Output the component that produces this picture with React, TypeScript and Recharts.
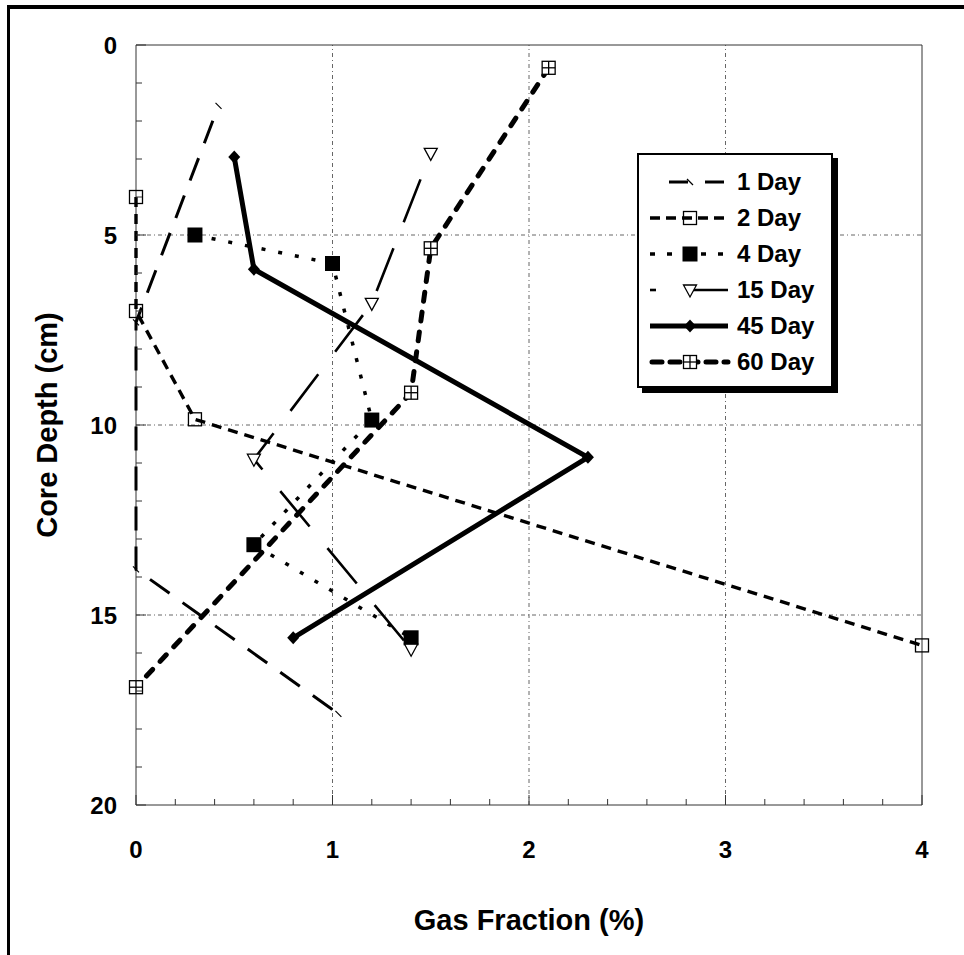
import { Line, LineChart, ReferenceLine, XAxis, YAxis } from 'recharts'

const FONT = '"Liberation Sans", Arial, Helvetica, sans-serif'
const AXIS = '#333'
const GRID = '#666'
// pixel gap between the plot clip edge and x = 0, so lines drawn on the left axis are not cut in half
const PAD = 8

// gas fraction (%) vs core depth (cm)
const day1 = [
  { gas: 0.42, depth: 1.6 },
  { gas: 0, depth: 7.3 },
  { gas: 0, depth: 13.8 },
  { gas: 1.03, depth: 17.6 },
]
const day2 = [
  { gas: 0, depth: 4.0 },
  { gas: 0, depth: 7.0 },
  { gas: 0.3, depth: 9.85 },
  { gas: 4.0, depth: 15.8 },
]
const day4 = [
  { gas: 0.3, depth: 5.0 },
  { gas: 1.0, depth: 5.75 },
  { gas: 1.2, depth: 9.87 },
  { gas: 0.6, depth: 13.15 },
  { gas: 1.4, depth: 15.6 },
]
const day15 = [
  { gas: 1.5, depth: 2.85 },
  { gas: 1.2, depth: 6.8 },
  { gas: 0.6, depth: 10.9 },
  { gas: 1.4, depth: 15.9 },
]
const day45 = [
  { gas: 0.5, depth: 2.95 },
  { gas: 0.6, depth: 5.9 },
  { gas: 2.3, depth: 10.85 },
  { gas: 0.8, depth: 15.6 },
]
const day60 = [
  { gas: 2.1, depth: 0.6 },
  { gas: 1.5, depth: 5.35 },
  { gas: 1.4, depth: 9.15 },
  { gas: 0, depth: 16.9 },
]

const seriesNames = ['1 Day', '2 Day', '4 Day', '15 Day', '45 Day', '60 Day']
const seriesData = [day1, day2, day4, day15, day45, day60]

const xTicks = [0, 0.2, 0.4, 0.6, 0.8, 1, 1.2, 1.4, 1.6, 1.8, 2, 2.2, 2.4, 2.6, 2.8, 3, 3.2, 3.4, 3.6, 3.8, 4]
const yTicks = [0, 1, 2, 3, 4, 5, 6, 7, 8, 9, 10, 11, 12, 13, 14, 15, 16, 17, 18, 19, 20]
const xLabels = [0, 1, 2, 3, 4]
const yLabels = [0, 5, 10, 15, 20]
const xGrid = [1, 2, 3]
const yGrid = [5, 10, 15]
const xDomain = [0, 4]
const yDomain = [0, 20]

type MarkerKind = 'slash' | 'openSquare' | 'square' | 'triangle' | 'diamond' | 'crossSquare'

const styles: { width: number; dash?: string; offset?: number; marker: MarkerKind; cap?: 'round' | 'butt' }[] = [
  { width: 3, dash: '24 16', offset: 24, marker: 'slash' },
  { width: 3.4, dash: '10 7', marker: 'openSquare' },
  { width: 3.5, dash: '4 13', marker: 'square' },
  { width: 2.6, dash: '46 28', offset: 46, marker: 'triangle' },
  { width: 5, marker: 'diamond' },
  { width: 5, dash: '9 11', marker: 'crossSquare', cap: 'round' },
]

function Marker({ kind, cx, cy }: { kind: MarkerKind; cx: number; cy: number }) {
  switch (kind) {
    case 'slash':
      return <line x1={cx - 3} y1={cy - 3} x2={cx + 3} y2={cy + 3} stroke="#000" strokeWidth={1.2} />
    case 'openSquare':
      return <rect x={cx - 6.5} y={cy - 6.5} width={13} height={13} fill="none" stroke="#000" strokeWidth={1.3} />
    case 'square':
      return <rect x={cx - 7.5} y={cy - 7.5} width={15} height={15} fill="#000" />
    case 'triangle':
      return (
        <path
          d={`M${cx - 6.5},${cy - 5} L${cx + 6.5},${cy - 5} L${cx},${cy + 7} Z`}
          fill="#fff"
          stroke="#000"
          strokeWidth={1.3}
        />
      )
    case 'diamond':
      return <path d={`M${cx},${cy - 6.5} L${cx + 6},${cy} L${cx},${cy + 6.5} L${cx - 6},${cy} Z`} fill="#000" />
    case 'crossSquare':
      return (
        <g stroke="#000" strokeWidth={1.3} fill="#fff">
          <rect x={cx - 6.5} y={cy - 6.5} width={13} height={13} />
          <line x1={cx - 6.5} x2={cx + 6.5} y1={cy} y2={cy} />
          <line x1={cx} x2={cx} y1={cy - 6.5} y2={cy + 6.5} />
        </g>
      )
  }
}

const isMajor = (v: number, list: number[]) => list.some((l) => Math.abs(l - v) < 1e-9)

function XTick(props: any) {
  const { x, y, payload, side } = props
  const v = payload.value
  const major = isMajor(v, xLabels)
  const len = major ? 10 : 6
  const dir = side === 'bottom' ? -1 : 1
  return (
    <g>
      <line x1={x} x2={x} y1={y} y2={y + dir * len} stroke={AXIS} strokeWidth={1} />
      {side === 'bottom' && major && (
        <text x={x} y={y + 44} textAnchor="middle" dominantBaseline="central" fontFamily={FONT} fontWeight={700} fontSize={24} fill="#000">
          {v}
        </text>
      )}
    </g>
  )
}

function YTick(props: any) {
  const { payload, side } = props
  const x = side === 'left' ? props.x + PAD : props.x
  const y = props.y
  const v = payload.value
  const major = isMajor(v, yLabels)
  const len = major ? 10 : 6
  const dir = side === 'left' ? 1 : -1
  return (
    <g>
      <line x1={x} x2={x + dir * len} y1={y} y2={y} stroke={AXIS} strokeWidth={1} />
      {side === 'left' && major && (
        <text x={x - 19} y={y} textAnchor="end" dominantBaseline="central" fontFamily={FONT} fontWeight={700} fontSize={24} fill="#000">
          {v}
        </text>
      )}
    </g>
  )
}

function LegendSample({ i }: { i: number }) {
  const y = 18
  const m = styles[i].marker
  let line = null
  if (i === 0) line = <line x1={30} x2={88} y1={y} y2={y} stroke="#000" strokeWidth={3} strokeDasharray="19 17" />
  if (i === 1) line = <line x1={11} x2={89} y1={y} y2={y} stroke="#000" strokeWidth={3.4} strokeDasharray="10 6" />
  if (i === 2) line = <line x1={11} x2={89} y1={y} y2={y} stroke="#000" strokeWidth={3.5} strokeDasharray="5 12" />
  if (i === 3)
    line = (
      <g stroke="#000" strokeWidth={2.6}>
        <line x1={11} x2={17} y1={y} y2={y} />
        <line x1={51} x2={89} y1={y} y2={y} />
      </g>
    )
  if (i === 4) line = <line x1={11} x2={89} y1={y} y2={y} stroke="#000" strokeWidth={5} />
  if (i === 5) line = <line x1={13} x2={89} y1={y} y2={y} stroke="#000" strokeWidth={5} strokeDasharray="10 8" strokeLinecap="round" />
  return (
    <svg width={96} height={36} style={{ display: 'block' }}>
      {line}
      <Marker kind={m} cx={51} cy={y} />
    </svg>
  )
}

function ChartLegend() {
  return (
    <div
      style={{
        position: 'absolute',
        left: 637,
        top: 153,
        width: 192,
        height: 222,
        border: '2px solid #000',
        background: '#fff',
        boxShadow: '5px 5px 0 #000',
        paddingTop: 9,
        boxSizing: 'content-box',
      }}
    >
      {seriesNames.map((name, i) => (
        <div key={name} style={{ display: 'flex', alignItems: 'center', height: 36 }}>
          <LegendSample i={i} />
          <span style={{ marginLeft: 2, fontFamily: FONT, fontWeight: 700, fontSize: 24, color: '#000' }}>{name}</span>
        </div>
      ))}
    </div>
  )
}

export default function App() {
  return (
    <div style={{ position: 'absolute', left: 0, top: 0, width: 964, height: 955, overflow: 'hidden', background: '#fff' }}>
      <div
        style={{
          position: 'absolute',
          left: 7,
          top: 5,
          width: 1000,
          height: 1000,
          borderTop: '4px solid #000',
          borderLeft: '3px solid #000',
        }}
      />
      <LineChart
        width={964}
        height={955}
        margin={{ top: 44, right: 41, bottom: 149, left: 135 - PAD }}
        style={{ position: 'absolute', left: 0, top: 0 }}
      >
        {xGrid.map((v) => (
          <ReferenceLine key={`gx${v}`} x={v} stroke={GRID} strokeDasharray="4 3 1 3" />
        ))}
        {yGrid.map((v) => (
          <ReferenceLine
            key={`gy${v}`}
            segment={[
              { x: xDomain[0], y: v },
              { x: xDomain[1], y: v },
            ]}
            stroke={GRID}
            strokeDasharray="4 3 1 3"
          />
        ))}
        {/* plot frame: left edge at x = 0, top and bottom trimmed to the data range */}
        <ReferenceLine x={xDomain[0]} stroke={AXIS} />
        {yDomain.map((v) => (
          <ReferenceLine
            key={`frame${v}`}
            segment={[
              { x: xDomain[0], y: v },
              { x: xDomain[1], y: v },
            ]}
            stroke={AXIS}
          />
        ))}
        <XAxis
          type="number"
          dataKey="gas"
          domain={xDomain}
          padding={{ left: PAD, right: 0 }}
          ticks={xTicks}
          interval={0}
          height={1}
          tickSize={0}
          tickMargin={0}
          tickLine={false}
          axisLine={false}
          tick={(p: any) => <XTick {...p} side="bottom" />}
        />
        <XAxis
          xAxisId="top"
          orientation="top"
          type="number"
          domain={xDomain}
          padding={{ left: PAD, right: 0 }}
          ticks={xTicks}
          interval={0}
          height={1}
          tickSize={0}
          tickMargin={0}
          tickLine={false}
          axisLine={false}
          tick={(p: any) => <XTick {...p} side="top" />}
        />
        <YAxis
          type="number"
          domain={yDomain}
          reversed
          ticks={yTicks}
          interval={0}
          width={1}
          tickSize={0}
          tickMargin={0}
          tickLine={false}
          axisLine={false}
          tick={(p: any) => <YTick {...p} side="left" />}
        />
        <YAxis
          yAxisId="right"
          orientation="right"
          type="number"
          domain={yDomain}
          reversed
          ticks={yTicks}
          interval={0}
          width={1}
          tickSize={0}
          tickMargin={0}
          tickLine={false}
          axisLine={{ stroke: AXIS }}
          tick={(p: any) => <YTick {...p} side="right" />}
        />
        {seriesData.map((data, i) => (
          <Line
            key={seriesNames[i]}
            name={seriesNames[i]}
            data={data}
            dataKey="depth"
            type="linear"
            stroke="#000"
            strokeWidth={styles[i].width}
            strokeDasharray={styles[i].dash}
            strokeDashoffset={styles[i].offset}
            strokeLinecap={styles[i].cap ?? 'butt'}
            isAnimationActive={false}
            dot={(p: any) => <Marker key={`m${i}-${p.index}`} kind={styles[i].marker} cx={p.cx} cy={p.cy} />}
            activeDot={false}
          />
        ))}
      </LineChart>
      <div
        style={{
          position: 'absolute',
          left: 47 - 150,
          top: 425 - 16,
          width: 300,
          height: 32,
          lineHeight: '32px',
          textAlign: 'center',
          transform: 'rotate(-90deg)',
          fontFamily: FONT,
          fontWeight: 700,
          fontSize: 29,
        }}
      >
        Core Depth (cm)
      </div>
      <div
        style={{
          position: 'absolute',
          left: 529 - 200,
          top: 920 - 16,
          width: 400,
          height: 32,
          lineHeight: '32px',
          textAlign: 'center',
          fontFamily: FONT,
          fontWeight: 700,
          fontSize: 29,
        }}
      >
        Gas Fraction (%)
      </div>
      <ChartLegend />
    </div>
  )
}
